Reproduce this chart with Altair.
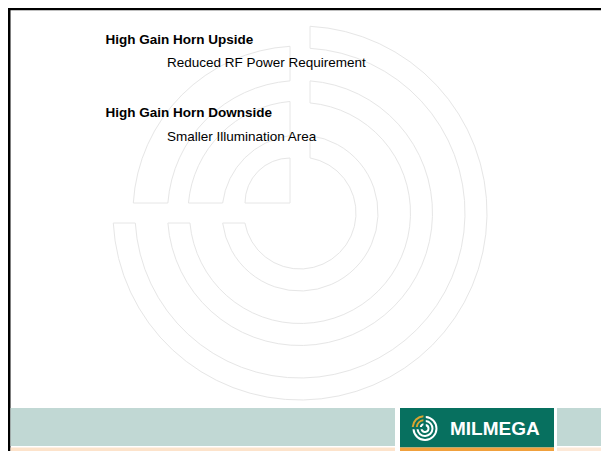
import math
import altair as alt
import pandas as pd

# ---------------- slide content ----------------
headings = ["High Gain Horn Upside", "High Gain Horn Downside"]
details = ["Reduced RF Power Requirement", "Smaller Illumination Area"]
brand = ["MILMEGA"]

# ---------------- layout (page pixels, origin top-left) ----------------
M = 8
W, H = 593, 443                 # kept inside the window so the page never overflows
PAGE_W, PAGE_H = M + W, M + H

heading_x = [105.5, 105.5]
heading_y = [43.7, 117.2]
detail_x = [167, 167]
detail_y = [66.5, 140.7]
brand_x = [450]
brand_y = [435]

# rectangles: x0, x1, y0, y1, colour
rect_x0 = [8, 8, 10.5, 10.5, 400, 400, 557, 557]
rect_x1 = [PAGE_W, 10.5, 395, 395, 554, 554, PAGE_W, PAGE_W]
rect_y0 = [8, 8, 408, 447.5, 408, 447.5, 408, 447.5]
rect_y1 = [10.3, PAGE_H, 446, 451, 447.5, 451, 446, 451]
rect_col = ["#000000", "#000000", "#c1d8d4", "#fde3cb",
            "#07705f", "#f0a03c", "#c1d8d4", "#fde9d8"]

# watermark (concentric logo shape) -- ring radii bands
wm_cx, wm_cy = 300, 213
wm_ring_inner = [56, 110.5, 165]
wm_ring_outer = [78, 132.5, 187]
wm_quarter_inner = [78, 132.5]
wm_quarter_outer = [112, 167]
wm_pie_cx, wm_pie_cy, wm_pie_r = 290, 203, 45
WM_GAP = 10
WM_STROKE = "#e6e6e6"

# logo icon
ic_cx, ic_cy = 425, 428.5
ic_ring_inner = [2.5, 6.5, 10.5]
ic_ring_outer = [4.5, 8.5, 12.5]
ic_q_inner = [6.5, 10.5]
ic_q_outer = [8.5, 12.5]

xscale = alt.Scale(domain=[M, PAGE_W], nice=False, zero=False)
yscale = alt.Scale(domain=[M, PAGE_H], nice=False, zero=False, reverse=True)


def X(f="x"):
    return alt.X(f"{f}:Q", scale=xscale, axis=None)


def Y(f="y"):
    return alt.Y(f"{f}:Q", scale=yscale, axis=None)


TAU = 2 * math.pi


def arc_layer(cx, cy, ri, ro, t0, t1, gap, **mark):
    rp = math.sqrt(ri * ri + ro * ro)
    pad = 2 * math.asin(gap / rp) if gap > 0 else 0
    df = pd.DataFrame({"x": [cx], "y": [cy], "ri": [ri], "ro": [ro],
                       "t0": [t0], "t1": [t1]})
    return alt.Chart(df).mark_arc(padAngle=pad, **mark).encode(
        x=X(), y=Y(),
        theta=alt.Theta("t0:Q", scale=None, stack=False),
        theta2=alt.Theta2("t1:Q"),
        radius=alt.Radius("ro:Q", scale=None),
        radius2=alt.Radius2("ri:Q"),
    )


layers = []

# watermark
wm_style = dict(fill="white", fillOpacity=0, stroke=WM_STROKE, strokeWidth=1)
for ri, ro in zip(wm_ring_inner, wm_ring_outer):
    layers.append(arc_layer(wm_cx, wm_cy, ri, ro, 0, 1.5 * math.pi, WM_GAP, **wm_style))
for ri, ro in zip(wm_quarter_inner, wm_quarter_outer):
    layers.append(arc_layer(wm_cx, wm_cy, ri, ro, 1.5 * math.pi, TAU, WM_GAP, **wm_style))
layers.append(arc_layer(wm_pie_cx, wm_pie_cy, 0, wm_pie_r, 1.5 * math.pi, TAU, 0, **wm_style))

# rectangles (frame + footer bands)
rects = pd.DataFrame({"x0": rect_x0, "x1": rect_x1, "y0": rect_y0,
                      "y1": rect_y1, "c": rect_col})
layers.append(
    alt.Chart(rects).mark_rect().encode(
        x=X("x0"), x2="x1", y=Y("y0"), y2="y1",
        color=alt.Color("c:N", scale=None),
    )
)

# logo icon
for ri, ro in zip(ic_ring_inner, ic_ring_outer):
    layers.append(arc_layer(ic_cx, ic_cy, ri, ro, 0, 1.5 * math.pi, 0.8, fill="white"))
layers.append(arc_layer(ic_cx - 0.8, ic_cy - 0.8, ic_ring_inner[0], ic_ring_outer[0],
                        1.5 * math.pi, TAU, 0.8, fill="white"))
for ri, ro in zip(ic_q_inner, ic_q_outer):
    layers.append(arc_layer(ic_cx - 0.8, ic_cy - 0.8, ri, ro, 1.5 * math.pi, TAU, 0.8,
                            fill="#d9a531"))

# texts
head_df = pd.DataFrame({"x": heading_x, "y": heading_y, "t": headings})
det_df = pd.DataFrame({"x": detail_x, "y": detail_y, "t": details})
brand_df = pd.DataFrame({"x": brand_x, "y": brand_y, "t": brand})

layers.append(
    alt.Chart(head_df).mark_text(
        align="left", baseline="alphabetic", font="Liberation Sans",
        fontSize=13.5, fontWeight="bold", color="#000000"
    ).encode(x=X(), y=Y(), text="t:N")
)
layers.append(
    alt.Chart(det_df).mark_text(
        align="left", baseline="alphabetic", font="Liberation Sans",
        fontSize=13.5, color="#000000"
    ).encode(x=X(), y=Y(), text="t:N")
)
layers.append(
    alt.Chart(brand_df).mark_text(
        align="left", baseline="alphabetic", font="Liberation Sans",
        fontSize=19, fontWeight="bold", color="#ffffff"
    ).encode(x=X(), y=Y(), text="t:N")
)

chart = alt.layer(*layers).properties(
    width=W, height=H, padding=0, autosize="none", background="white"
).configure_view(stroke=None)

chart.save("out.html", embed_options={"renderer": "svg", "actions": False})
